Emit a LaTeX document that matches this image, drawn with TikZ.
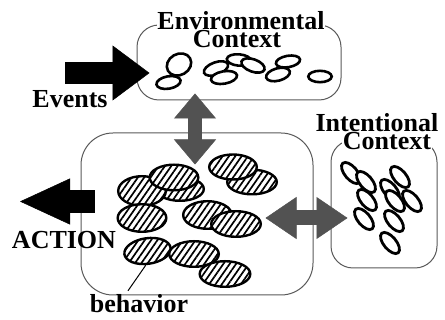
\documentclass[tikz,border=0pt]{standalone}
\usepackage{fontspec}
\setmainfont{Liberation Serif}
\usetikzlibrary{
	arrows.meta,shapes.geometric,patterns.meta,calc,positioning
}
\tikzset{
	context/.style={
		rectangle, rounded corners=22pt, inner sep=0pt,
		draw=black!65, line width=1pt
	},
	%
	boxtitle/.style={
		font=\fontsize{26}{26}\selectfont\bfseries, anchor=base,
		inner sep=0.5pt, fill=white
	},
	%
	boxlabel/.style={
		font=\fontsize{26}{26}\selectfont\bfseries, anchor=base, inner sep=0pt
	},
	%
	stimulus/.style={
		ellipse, inner sep=0pt, draw, line width=2.6pt, fill=white,
		minimum width=24.4pt, minimum height=12.4pt
	},
	%
	intention/.style={
		ellipse, inner sep=0pt, draw, line width=2.8pt, fill=white,
		minimum width=25.5pt, minimum height=12.5pt, rotate=-50
	},
	%
	behav/.style={
		ellipse, inner sep=0pt, draw, line width=2.4pt,
		preaction={fill=white}, pattern={Lines[angle=55,distance=5.2pt,line width=1.7pt]},
		minimum width=48pt, minimum height=26pt
	},
	%
	blockarrow/.style={
		draw=black, line width=22pt
	},
	%
	linkarrow/.style={
		draw=black!68, line width=14pt
	}
}
\begin{document}
\begin{tikzpicture}[x=1pt, y=-1pt]
    \useasboundingbox (0,0) rectangle (445,320);
    \node(Env)[context, minimum width=204pt, minimum height=75pt] at (239,62.5){};
    \node(Beh)[context, rounded corners=32pt, minimum width=232pt, minimum height=162pt] at (197,214){};
    \node(Int)[context, minimum width=106pt, minimum height=128pt] at (384,204){};
    \node(EnvTitle)[boxtitle] at (241,30){Environmental};
    \node(EnvTitleB)[boxtitle] at (237,48){Context};
    \node(IntTitle)[boxtitle] at (377,132){Intentional};
    \node(IntTitleB)[boxtitle] at (387,150){Context};
    \node(EventsLabel)[boxlabel] at (70,108){Events};
    \node(ActionLabel)[boxlabel] at (64,249){ACTION};
    \node(BehLabel)[boxlabel] at (139,313){behavior};
    \node(E1)[stimulus, minimum width=25.4pt, minimum height=21pt, rotate=30] at (179,64.5){};
    \node(E2)[stimulus, rotate=10] at (168.5,82.5){};
    \node(E3)[stimulus, minimum width=25.4pt, rotate=20] at (216,68.5){};
    \node(E4)[stimulus, minimum width=26.4pt, rotate=10] at (224,77.5){};
    \node(E5)[stimulus, minimum height=11.4pt, rotate=-5] at (239,60){};
    \node(E6)[stimulus, rotate=-20] at (253,65.5){};
    \node(E7)[stimulus, rotate=15] at (278,74.5){};
    \node(E8)[stimulus, minimum height=11.4pt, rotate=10] at (288,61.5){};
    \node(E9)[stimulus, minimum width=23.4pt, minimum height=11.4pt] at (320,76.5){};
    \node(B3)[behav, minimum width=47.6pt, minimum height=23.6pt] at (180,189){};
    \node(B1)[behav, minimum width=47.6pt, minimum height=29.6pt] at (142,191){};
    \node(B2)[behav, minimum width=48.6pt, minimum height=25.6pt] at (174,177.5){};
    \node(B6)[behav, minimum width=49.6pt, minimum height=24.6pt] at (252,182){};
    \node(B5)[behav, minimum width=47.6pt, minimum height=25pt] at (233,167){};
    \node(B4)[behav, minimum width=48.6pt, minimum height=27.6pt] at (142,218){};
    \node(B7)[behav, minimum width=48.6pt, minimum height=27.6pt] at (207.5,215){};
    \node(B8)[behav, minimum width=49.6pt, minimum height=25.6pt] at (236,224){};
    \node(B9)[behav, minimum width=46.6pt, minimum height=25.6pt, rotate=8] at (147.5,251){};
    \node(B10)[behav, minimum width=49.6pt, minimum height=25.6pt] at (194,254){};
    \node(B11)[behav, minimum width=50.6pt, minimum height=25.6pt] at (225,274){};
    \node(I1)[intention] at (351,173){};
    \node(I2)[intention] at (366,182){};
    \node(I3)[intention] at (367,200){};
    \node(I4)[intention] at (364,219){};
    \node(I5)[intention] at (390,190){};
    \node(I6)[intention] at (400,177){};
    \node(I7)[intention] at (395,201){};
    \node(I8)[intention] at (412,201){};
    \node(I9)[intention] at (394,221){};
    \node(I10)[intention] at (390,243){};
    \coordinate(EventsTail) at (65,73);
    \coordinate(ActionTip) at (20,201.5);
    \draw[blockarrow, -{Triangle[length=37pt,width=55pt,line width=0.5pt]}] (EventsTail) -- ($(EventsTail -| Env.west)+(13,0)$);
    \draw[blockarrow, line width=23pt, -{Triangle[length=50pt,width=46pt,line width=0.5pt]}] ($(ActionTip -| Beh.west)+(14,0)$) -- (ActionTip);
    \draw[linkarrow, {Triangle[length=25pt,width=42pt,line width=0.5pt]}-{Triangle[length=25pt,width=42pt,line width=0.5pt]}] ($(Env.south)+(-44,-7)$) -- ($(Beh.north)+(-2,32)$);
    \draw[linkarrow, line width=15pt, {Triangle[length=31pt,width=42pt,line width=0.5pt]}-{Triangle[length=31pt,width=42pt,line width=0.5pt]}] ($(Beh.east)+(-48,4)$) -- ($(Int.west)+(17,14)$);
    \draw[line width=1pt] ([xshift=-11pt,yshift=4pt]BehLabel.north) -- (B9.255);
\end{tikzpicture}
\end{document}
